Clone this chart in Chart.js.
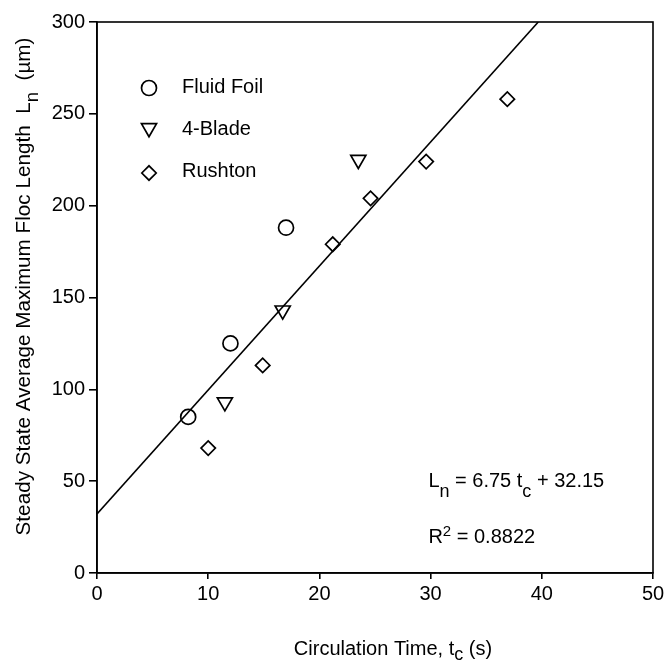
<!DOCTYPE html>
<html>
<head>
<meta charset="utf-8">
<script src="https://cdn.jsdelivr.net/npm/chart.js@4.4.1/dist/chart.umd.min.js"></script>
<style>
  html, body { margin: 0; padding: 0; background: #fff; }
  #wrap { width: 670px; height: 662px; }
</style>
</head>
<body>
<div id="wrap"><canvas id="flocChart" width="670" height="662"></canvas></div>
<script>
// values
const fluidFoilTime = [8.2, 12.0, 17.0];
const fluidFoilLength = [85, 125, 188];
const bladeTime = [11.5, 16.7, 23.5];
const bladeLength = [93, 143, 225];
const rushtonTime = [10.0, 14.9, 21.2, 24.6, 29.6, 36.9];
const rushtonLength = [68, 113, 179, 204, 224, 258];

// linear fit printed on the chart
const fitSlope = 6.75;
const fitIntercept = 32.15;
const fitR2 = 0.8822;

const xTicks = [0, 10, 20, 30, 40, 50];
const yTicks = [0, 50, 100, 150, 200, 250, 300];

const FONT = "'Liberation Sans', Arial, Helvetica, sans-serif";
const INK = '#000';

const toPoints = (xs, ys) => xs.map((x, i) => ({ x: x, y: ys[i] }));
const xMax = xTicks[xTicks.length - 1];
const yMax = yTicks[yTicks.length - 1];
const fitLine = [
    { x: 0, y: fitIntercept },
    { x: (yMax - fitIntercept) / fitSlope, y: yMax }
];

const series = [
    { label: 'Fluid Foil', style: 'circle', rotation: 0, radius: 7.5, data: toPoints(fluidFoilTime, fluidFoilLength) },
    { label: '4-Blade', style: 'triangle', rotation: 180, radius: 8.7, data: toPoints(bladeTime, bladeLength) },
    { label: 'Rushton', style: 'rectRot', rotation: 0, radius: 7.2, data: toPoints(rushtonTime, rushtonLength) }
];

// draws text pieces one after another (for sub/superscripts)
function drawRuns(ctx, x, y, runs) {
    let cx = x;
    runs.forEach(r => {
        ctx.font = r.size + 'px ' + FONT;
        ctx.fillText(r.text, cx, y + (r.dy || 0));
        cx += ctx.measureText(r.text).width;
    });
    return cx - x;
}
function runsWidth(ctx, runs) {
    let w = 0;
    runs.forEach(r => {
        ctx.font = r.size + 'px ' + FONT;
        w += ctx.measureText(r.text).width;
    });
    return w;
}

const overlay = {
    id: 'overlay',
    afterDraw(chart) {
        const ctx = chart.ctx;
        const a = chart.chartArea;
        const xs = chart.scales.x, ys = chart.scales.y;
        ctx.save();
        ctx.strokeStyle = INK;
        ctx.fillStyle = INK;

        // frame
        ctx.lineWidth = 1.6;
        ctx.strokeRect(a.left, a.top, a.right - a.left, a.bottom - a.top);

        // legend inside the plot
        const legendY = [a.top + 66, a.top + 106, a.top + 151];
        const textY = [a.top + 71, a.top + 113, a.top + 155];
        series.forEach((s, i) => {
            ctx.save();
            ctx.fillStyle = 'rgba(0,0,0,0)';
            ctx.lineWidth = 1.7;
            Chart.helpers.drawPoint(ctx, {
                pointStyle: s.style, rotation: s.rotation, radius: s.radius, borderWidth: 1.7
            }, a.left + 52, legendY[i]);
            ctx.restore();
            ctx.font = '20px ' + FONT;
            ctx.textAlign = 'left';
            ctx.textBaseline = 'alphabetic';
            ctx.fillText(s.label, a.left + 85, textY[i]);
        });

        ctx.textAlign = 'left';
        ctx.textBaseline = 'alphabetic';

        // regression equation
        const ex = xs.getPixelForValue(29.8);
        drawRuns(ctx, ex, ys.getPixelForValue(46.8), [
            { text: 'L', size: 20 },
            { text: 'n', size: 18, dy: 10 },
            { text: ' = ' + fitSlope.toFixed(2) + ' t', size: 20 },
            { text: 'c', size: 18, dy: 10 },
            { text: ' + ' + fitIntercept.toFixed(2), size: 20 }
        ]);
        drawRuns(ctx, ex, ys.getPixelForValue(16.3), [
            { text: 'R', size: 20 },
            { text: '2', size: 15, dy: -7 },
            { text: ' = ' + fitR2.toFixed(4), size: 20 }
        ]);

        // x axis title
        const xRuns = [
            { text: 'Circulation Time, t', size: 20 },
            { text: 'c', size: 18, dy: 5 },
            { text: ' (s)', size: 20 }
        ];
        const xw = runsWidth(ctx, xRuns);
        drawRuns(ctx, (a.left + a.right) / 2 + 18 - xw / 2, a.bottom + 82, xRuns);

        // y axis title
        const yRuns = [
            { text: 'Steady State Average Maximum Floc Length  L', size: 20.7 },
            { text: 'n', size: 18.5, dy: 8 },
            { text: '  (\u00b5m)', size: 20.7 }
        ];
        const yw = runsWidth(ctx, yRuns);
        ctx.translate(29.5, (a.top + a.bottom) / 2 - 11);
        ctx.rotate(-Math.PI / 2);
        drawRuns(ctx, -yw / 2, 0, yRuns);

        ctx.restore();
    }
};

const datasets = series.map(s => ({
    label: s.label,
    data: s.data,
    showLine: false,
    pointStyle: s.style,
    rotation: s.rotation,
    pointRadius: s.radius,
    pointHoverRadius: s.radius,
    pointBorderWidth: 1.7,
    borderColor: INK,
    backgroundColor: 'rgba(0,0,0,0)',
    pointBackgroundColor: 'rgba(0,0,0,0)'
}));
datasets.push({
    type: 'line',
    label: 'fit',
    data: fitLine,
    borderColor: INK,
    borderWidth: 1.6,
    pointRadius: 0,
    fill: false,
    tension: 0
});

new Chart(document.getElementById('flocChart').getContext('2d'), {
    type: 'scatter',
    data: { datasets: datasets },
    options: {
        responsive: false,
        animation: false,
        devicePixelRatio: 1,
        layout: { padding: { top: 22, right: 17, left: 0, bottom: 0 } },
        plugins: {
            legend: { display: false },
            tooltip: { enabled: false }
        },
        scales: {
            x: {
                type: 'linear',
                min: 0,
                max: xMax,
                afterBuildTicks: s => { s.ticks = xTicks.map(v => ({ value: v })); },
                afterFit: s => { s.height = 89; },
                grid: { drawOnChartArea: false, color: INK, lineWidth: 1.6, tickLength: 6 },
                border: { color: INK, width: 1.6 },
                ticks: { color: INK, font: { family: FONT, size: 20 }, padding: 3, maxRotation: 0 }
            },
            y: {
                type: 'linear',
                min: 0,
                max: yMax,
                afterBuildTicks: s => { s.ticks = yTicks.map(v => ({ value: v })); },
                afterFit: s => { s.width = 97; },
                grid: { drawOnChartArea: false, color: INK, lineWidth: 1.6, tickLength: 8 },
                border: { color: INK, width: 1.6 },
                ticks: { color: INK, font: { family: FONT, size: 20 }, padding: 4 }
            }
        }
    },
    plugins: [overlay]
});
</script>
</body>
</html>
